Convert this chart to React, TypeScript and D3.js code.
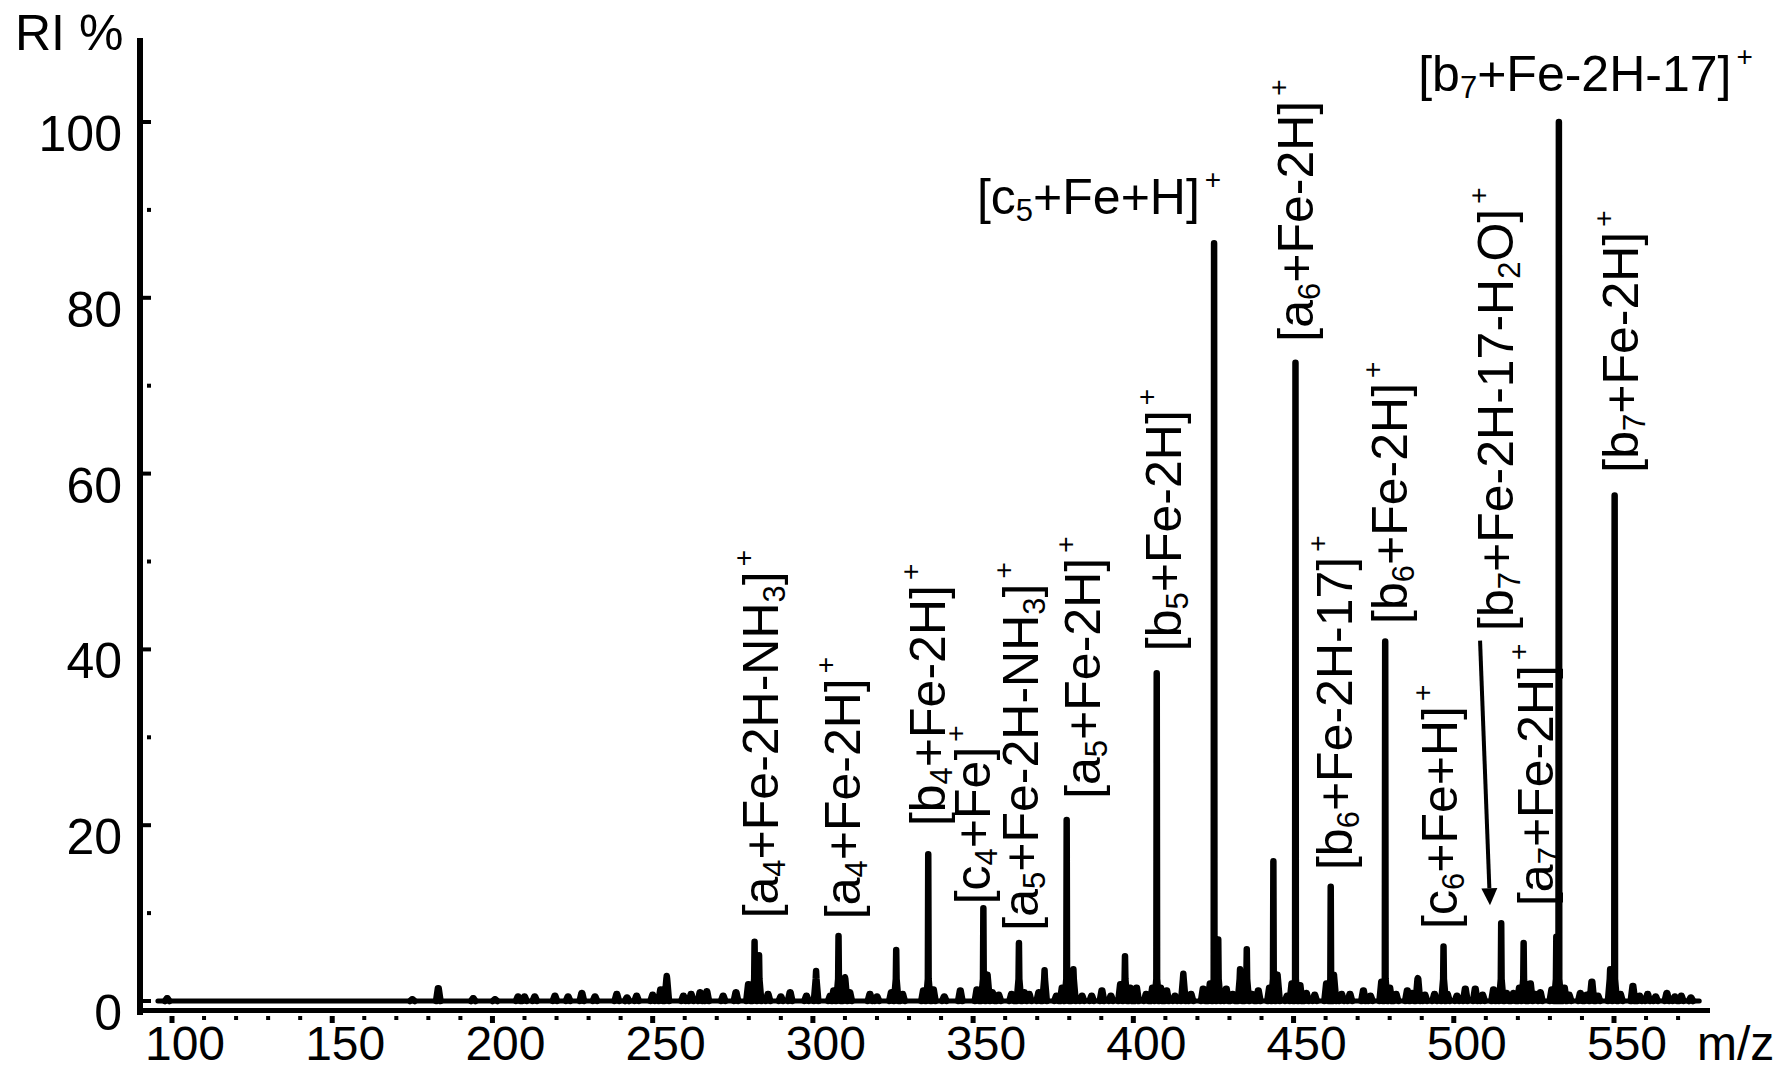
import * as d3 from "d3";

// spectrum peaks (m/z, relative intensity %)
const peakMz = [
  98.5, 175, 183.1, 194, 200.8, 208, 210, 213.2, 219.5, 223.6, 227.9, 232, 238.8, 242, 245, 250, 252.5,
  254.4, 259.6, 262, 264.8, 266.9, 272, 276, 279.9, 281.8, 283.2, 286, 290, 292.9, 298, 301, 305.4,
  306.5, 308, 310, 311.5, 317.8, 320, 324.5, 326, 328, 334.5, 336, 337.6, 341, 346, 351.2, 353.2,
  354.5, 356, 358, 362, 364.3, 366, 367.5, 370.5, 372.3, 376, 377.8, 379.2, 381.3, 384, 387, 390.2,
  393, 396, 397.4, 399, 401, 404, 406, 407.3, 408.5, 410.4, 413, 415.6, 418, 421.8, 424, 425.2,
  426.5, 429, 431, 433.3, 435.4, 437, 439, 442.5, 443.7, 445, 448, 449.5, 450.6, 452, 454, 456.6,
  460.3, 461.6, 462.6, 465, 467.6, 471.8, 474, 477.5, 478.6, 480, 482, 485.5, 487, 488.8, 491, 494,
  496.8, 498, 501, 503.6, 506.7, 509, 512.4, 514.8, 516.5, 518.6, 520.5, 521.8, 523.9, 525.5, 527,
  530.6, 532, 532.8, 534.5, 536, 539.5, 541.5, 543.1, 545, 548.8, 550.2, 552, 555.9, 558, 560.5, 563,
  566.5, 569, 571, 574,
];
const peakInt = [
  0.3, 0.2, 1.45, 0.3, 0.2, 0.5, 0.5, 0.5, 0.6, 0.5, 0.9, 0.5, 0.8, 0.4, 0.6, 0.7, 1.3,
  2.85, 0.6, 0.8, 1.0, 1.1, 0.6, 1.0, 1.9, 6.75, 5.2, 0.8, 0.5, 1.0, 0.6, 3.4, 0.6,
  1.2, 7.4, 2.7, 1.0, 0.8, 0.5, 1.0, 5.8, 0.8, 1.2, 16.7, 1.3, 0.5, 1.2, 1.3, 10.55,
  3.0, 1.0, 0.7, 0.8, 6.6, 1.0, 0.8, 1.0, 3.5, 0.6, 1.5, 20.6, 3.6, 0.6, 0.6, 1.2,
  0.6, 1.9, 5.1, 1.5, 1.5, 0.8, 1.5, 37.3, 1.5, 1.2, 0.6, 3.1, 0.8, 1.4, 2.0, 86.2,
  7.0, 1.4, 0.8, 3.6, 5.9, 0.8, 1.2, 1.5, 15.9, 3.0, 0.6, 2.0, 72.6, 1.8, 0.9, 0.7,
  2.0, 13.0, 3.0, 0.8, 0.8, 1.2, 0.6, 2.2, 40.9, 1.5, 0.8, 1.2, 0.9, 2.6, 0.7, 0.8,
  6.2, 0.8, 0.6, 1.4, 1.4, 0.7, 1.3, 8.85, 0.9, 0.9, 1.5, 6.6, 2.0, 0.8, 1.0,
  1.3, 7.3, 100, 1.5, 0.7, 0.9, 0.7, 2.2, 0.6, 3.6, 57.5, 0.8, 1.7, 0.6, 0.8, 0.5,
  0.9, 0.5, 0.6, 0.4,
];
const baseRange = [95.6, 576.6];

const xMajor = [100, 150, 200, 250, 300, 350, 400, 450, 500, 550];
const xMinor = d3.range(110, 580, 10).filter((v) => v % 50 !== 0);
const yMajor = [0, 20, 40, 60, 80, 100];
const yMinor = [10, 30, 50, 70, 90];

// fragment labels: "_x" = subscript char, "^+" = superscript charge
const annotText = [
  "[a_4+Fe-2H-NH_3]^+",
  "[a_4+Fe-2H]^+",
  "[b_4+Fe-2H]^+",
  "[c_4+Fe]^+",
  "[a_5+Fe-2H-NH_3]^+",
  "[a_5+Fe-2H]^+",
  "[b_5+Fe-2H]^+",
  "[a_6+Fe-2H]^+",
  "[b_6+Fe-2H-17]^+",
  "[b_6+Fe-2H]^+",
  "[c_6+Fe+H]^+",
  "[b_7+Fe-2H-17-H_2O]^+",
  "[a_7+Fe-2H]^+",
  "[b_7+Fe-2H]^+",
  "[c_5+Fe+H]^+",
  "[b_7+Fe-2H-17]^+",
];
const annotMz = [289.1, 314.7, 341.3, 355.3, 370.3, 389.6, 414.9, 456.1, 468.3, 485.5, 501.1, 518.5, 531.0, 557.6, 351.2, 488.9];
const annotAt = [9.4, 9.3, 19.9, 11.0, 8.0, 23.0, 39.8, 75.0, 14.9, 42.9, 8.2, 42.1, 10.8, 60.1, 89.5, 103.5];
const annotVertical = [true, true, true, true, true, true, true, true, true, true, true, true, true, true, false, false];

const arrowFrom = [508.2, 41.0];
const arrowTo = [511.3, 10.9];

const FONT = "'Liberation Sans', Arial, Helvetica, sans-serif";

function labelSpans(s: string) {
  const segs: { t: string; kind: "n" | "sub" | "sup" }[] = [];
  let buf = "";
  for (let i = 0; i < s.length; i++) {
    const c = s[i];
    if (c === "_" || c === "^") {
      if (buf) segs.push({ t: buf, kind: "n" });
      buf = "";
      segs.push({ t: s[i + 1], kind: c === "_" ? "sub" : "sup" });
      i++;
    } else buf += c;
  }
  if (buf) segs.push({ t: buf, kind: "n" });
  let shift = 0;
  return segs.map((g, i) => {
    const target = g.kind === "sub" ? 7 : g.kind === "sup" ? -25 : 0;
    const dy = target - shift;
    shift = target;
    return (
      <tspan
        key={i}
        dy={dy}
        dx={g.kind === "sup" ? 5 : 0}
        fontSize={g.kind === "sub" ? 31 : g.kind === "sup" ? 28 : 50}
      >
        {g.t}
      </tspan>
    );
  });
}

export default function App() {
  const W = 1781, H = 1071;
  const x = d3.scaleLinear().domain([100, 550]).range([172, 1614]);
  const y = d3.scaleLinear().domain([0, 100]).range([1001, 122]);
  const axisX = 140, axisY = 1011;

  const line = d3.line<[number, number]>().x((d) => x(d[0])).y((d) => y(d[1]));
  const base = line([[baseRange[0], 0], [baseRange[1], 0]]);
  // each peak: narrow profile (wider foot, thin stick up to the apex)
  const peaks = peakMz
    .map((m, i) => {
      const h = peakInt[i];
      const foot = Math.min(h, 2.5);
      return line([[m - 0.7, 0], [m - 0.12, foot], [m, h], [m + 0.12, foot], [m + 0.7, 0]]);
    })
    .join("");

  const ax0 = x(arrowFrom[0]), ay0 = y(arrowFrom[1]);
  const ax1 = x(arrowTo[0]), ay1 = y(arrowTo[1]);
  const ang = Math.atan2(ay1 - ay0, ax1 - ax0);
  const hl = 17, hw = 8;
  const bx = ax1 - hl * Math.cos(ang), by = ay1 - hl * Math.sin(ang);
  const head = `M${ax1},${ay1}L${bx - hw * Math.sin(ang)},${by + hw * Math.cos(ang)}L${bx + hw * Math.sin(ang)},${by - hw * Math.cos(ang)}Z`;

  return (
    <svg
      width={W}
      height={H}
      style={{ position: "absolute", left: 0, top: 0, background: "#fff" }}
      fontFamily={FONT}
    >
      <rect width={W} height={H} fill="#fff" />
      {/* axes */}
      <rect x={axisX - 3} y={38} width={6} height={axisY + 4 - 38} fill="#000" />
      <rect x={axisX - 3} y={axisY - 3} width={1710 - axisX + 3} height={5} fill="#000" />
      {yMajor.map((v) => (
        <g key={"ym" + v}>
          <rect x={axisX + 3} y={y(v) - 2} width={8} height={4} fill="#000" />
          <text x={122} y={y(v) + 29} fontSize={50} textAnchor="end">{v}</text>
        </g>
      ))}
      {yMinor.map((v) => (
        <rect key={"yn" + v} x={axisX + 7} y={y(v) - 2} width={4} height={4} fill="#000" />
      ))}
      {xMajor.map((v) => (
        <g key={"xm" + v}>
          <rect x={x(v) - 2.5} y={axisY + 5} width={5} height={7} fill="#000" />
          <text x={x(v) + 13} y={1060} fontSize={48} textAnchor="middle">{v}</text>
        </g>
      ))}
      {xMinor.map((v) => (
        <rect key={"xn" + v} x={x(v) - 2} y={axisY + 5} width={4} height={4} fill="#000" />
      ))}
      <text x={15} y={50} fontSize={50}>RI %</text>
      <text x={1697} y={1060} fontSize={48}>m/z</text>

      {/* spectrum */}
      <path d={base ?? ""} stroke="#000" strokeWidth={5} fill="none" strokeLinecap="round" />
      <path d={peaks} stroke="#000" strokeWidth={6.5} fill="#000" strokeLinecap="round" strokeLinejoin="round" />

      {/* annotations */}
      {annotText.map((t, i) => {
        const px = x(annotMz[i]), py = y(annotAt[i]);
        return annotVertical[i] ? (
          <text key={"a" + i} transform={`translate(${px},${py}) rotate(-90)`} fontSize={50}>
            {labelSpans(t)}
          </text>
        ) : (
          <text key={"a" + i} x={px} y={py} fontSize={50}>
            {labelSpans(t)}
          </text>
        );
      })}
      <line x1={ax0} y1={ay0} x2={bx} y2={by} stroke="#000" strokeWidth={4} />
      <path d={head} fill="#000" />
    </svg>
  );
}
